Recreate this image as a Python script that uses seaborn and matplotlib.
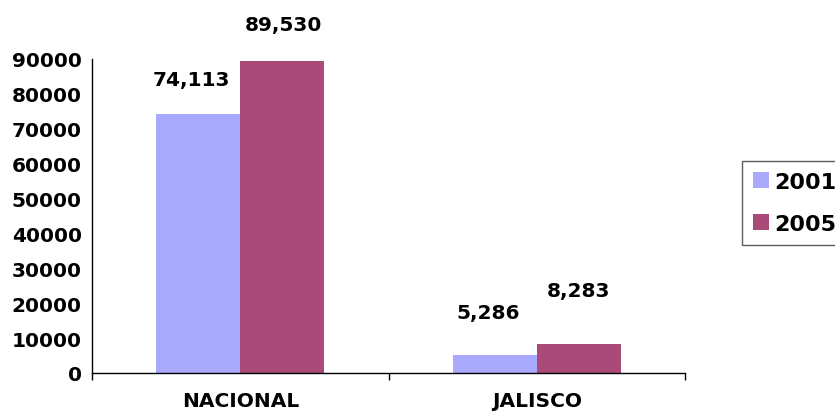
import matplotlib
matplotlib.use("Agg")
import matplotlib.pyplot as plt
import seaborn as sns
import pandas as pd

categories = ["NACIONAL", "JALISCO"]
years = ["2001", "2005"]
values_2001 = [74113, 5286]
values_2005 = [89530, 8283]
yticks = [0, 10000, 20000, 30000, 40000, 50000, 60000, 70000, 80000, 90000]

# label placement (offset in points from bar top centre), per year then category
label_dx = [[-4.7, -4.7], [0.5, 0.0]]
label_dy = [[25.2, 30.6], [25.9, 38.5]]

df = pd.DataFrame({
    "region": categories * 2,
    "year": [years[0]] * 2 + [years[1]] * 2,
    "value": values_2001 + values_2005,
})

sns.set_style("white")
plt.rcParams["font.family"] = ["DejaVu Sans"]
plt.rcParams["text.color"] = "black"
plt.rcParams["xtick.color"] = "black"
plt.rcParams["ytick.color"] = "black"

FS = 14.5
LFS = 16

fig = plt.figure(figsize=(8.35, 4.14), dpi=100)
ax = fig.add_axes([92/835, 1 - 374/414, (685 - 92)/835, (374 - 60)/414])

palette = {"2001": "#A9A9FD", "2005": "#AA4A78"}
sns.barplot(data=df, x="region", y="value", hue="year", order=categories,
            hue_order=years, palette=palette, width=0.567, ax=ax,
            saturation=1, edgecolor="none", linewidth=0)

ax.set_xlim(-0.5, 1.5)
ax.set_ylim(0, 90000)
ax.set_yticks(yticks)
ax.set_yticklabels([str(v) for v in yticks], fontsize=FS, fontweight="bold", color="black")
ax.set_xticks([0, 1])
ax.set_xticklabels(categories, fontsize=FS, fontweight="bold", color="black")
ax.tick_params(axis="x", which="major", length=0, pad=13)
ax.set_xticks([-0.5, 0.5, 1.5], minor=True)
ax.tick_params(axis="x", which="minor", length=5, width=1, color="black", direction="out")
ax.tick_params(axis="y", length=4.3, width=1, color="black", direction="out", pad=3)
ax.xaxis.set_tick_params(which="minor", bottom=True)
ax.set_xlabel("")
ax.set_ylabel("")

for s in ["top", "right"]:
    ax.spines[s].set_visible(False)
for s in ["left", "bottom"]:
    ax.spines[s].set_color("black")
    ax.spines[s].set_linewidth(1)

for i, container in enumerate(ax.containers):
    for j, bar in enumerate(container):
        h = bar.get_height()
        ax.annotate(f"{int(h):,}", (bar.get_x() + bar.get_width() / 2, h),
                    xytext=(label_dx[i][j], label_dy[i][j]), textcoords="offset points",
                    ha="center", va="center", fontsize=FS, fontweight="bold",
                    color="black", annotation_clip=False)

handles, labels = ax.get_legend_handles_labels()
leg = ax.legend(handles, labels, loc="upper left", bbox_to_anchor=(742/835, 1 - 162/414),
                bbox_transform=fig.transFigure, frameon=True, fancybox=False,
                edgecolor="#333333", prop={"weight": "bold", "size": LFS},
                handlelength=0.72, handleheight=0.72, handletextpad=0.22,
                borderpad=0.5, labelspacing=0.99, borderaxespad=0)
leg.get_frame().set_linewidth(1)
for t in leg.get_texts():
    t.set_color("black")

fig.savefig("out.png", dpi=100)
